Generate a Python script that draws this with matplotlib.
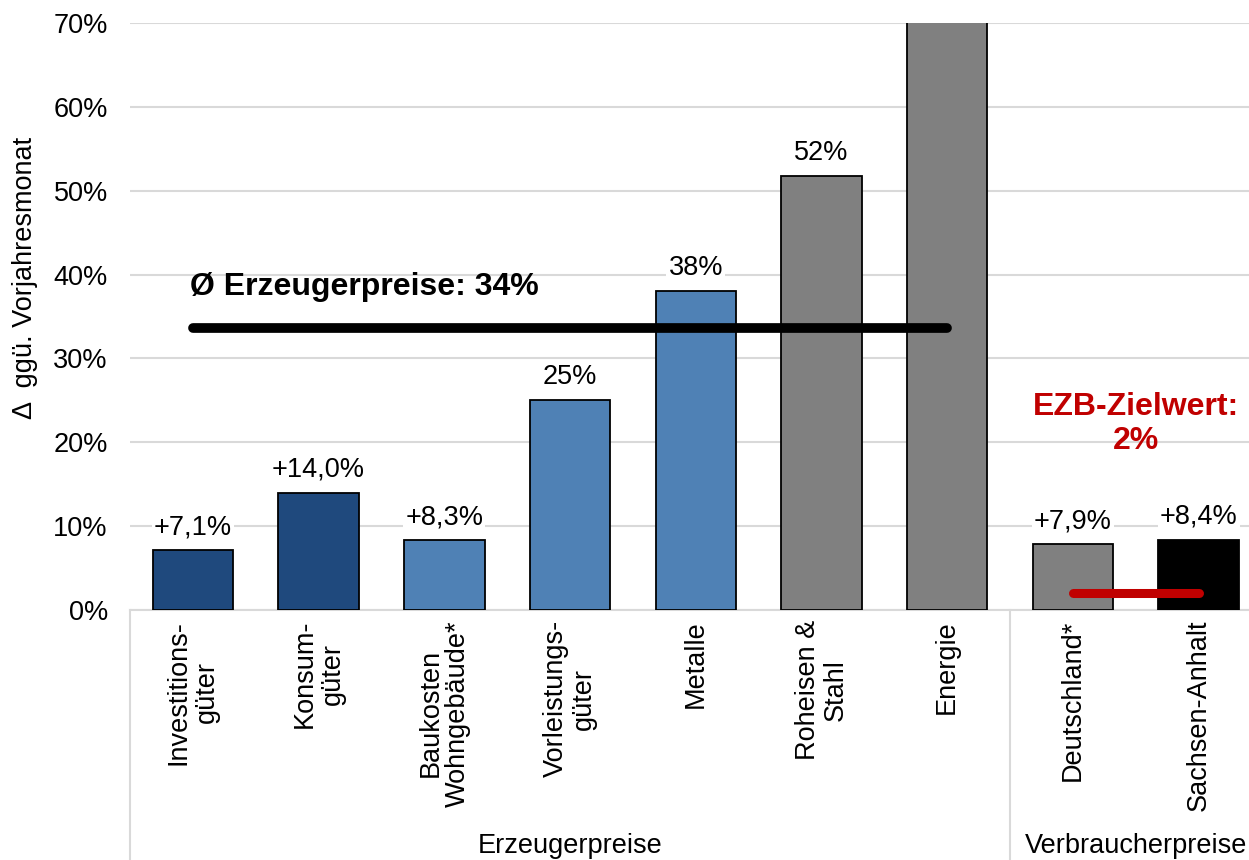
import matplotlib.pyplot as plt
import matplotlib.transforms as mtransforms

plt.rcParams['font.family'] = ['Liberation Sans', 'DejaVu Sans']

categories = ['Investitions-\ngüter', 'Konsum-\ngüter', 'Baukosten\nWohngebäude*', 'Vorleistungs-\ngüter',
              'Metalle', 'Roheisen &\nStahl', 'Energie', 'Deutschland*', 'Sachsen-Anhalt']
values = [7.1, 14.0, 8.3, 25.1, 38.1, 51.8, 92.0, 7.9, 8.4]
value_labels = ['+7,1%', '+14,0%', '+8,3%', '25%', '38%', '52%', '', '+7,9%', '+8,4%']
colors = ['#1F497D', '#1F497D', '#4F81B5', '#4F81B5', '#4F81B5', '#808080', '#808080', '#808080', '#000000']
y_ticks = [0, 10, 20, 30, 40, 50, 60, 70]

groups = ['Erzeugerpreise', 'Verbraucherpreise']
group_centers = [3, 7.5]
group_bounds = [-0.5, 6.5]

avg_producer = 33.6
avg_span = [0, 6]
ecb_target = 2.0
ecb_span = [7, 8]

fs = 19.5

fig = plt.figure(figsize=(12.49, 8.6), dpi=100)
ax = fig.add_axes([130 / 1249, 1 - 610 / 860, 1 - 130 / 1249, 587 / 860])

x = list(range(len(categories)))
ax.bar(x, values, width=0.64, color=colors, edgecolor='black', linewidth=1.3, zorder=3)

for i, lab in enumerate(value_labels):
    if lab:
        ax.annotate(lab, (i, values[i]), xytext=(0, 7), textcoords='offset points',
                    ha='center', va='bottom', fontsize=fs, zorder=4,
                    bbox=dict(facecolor='white', edgecolor='none', pad=1.5))

# Durchschnitt Erzeugerpreise
ax.plot(avg_span, [avg_producer, avg_producer], color='black', lw=7, solid_capstyle='round', zorder=5)
ax.text(-0.02, 38.5, 'Ø Erzeugerpreise: 34%', ha='left', va='center', fontsize=23, fontweight='bold', zorder=5)

# EZB-Zielwert
ax.plot(ecb_span, [ecb_target, ecb_target], color='#C00000', lw=6.5, solid_capstyle='round', zorder=5)
ax.text(7.5, 22.2, 'EZB-Zielwert:\n2%', ha='center', va='center', fontsize=23, fontweight='bold',
        color='#C00000', linespacing=1.2, zorder=5)

ax.set_xlim(-0.5, 8.4)
ax.set_ylim(0, 70)
ax.set_yticks(y_ticks)
ax.set_yticklabels([f'{t}%' for t in y_ticks], fontsize=fs)
ax.tick_params(axis='y', length=0, pad=16)
ax.set_xticks([])
ax.grid(axis='y', color='#D9D9D9', lw=1.5, zorder=0)
ax.set_axisbelow(True)
for s in ['top', 'right', 'left']:
    ax.spines[s].set_visible(False)
ax.spines['bottom'].set_color('#D9D9D9')
ax.spines['bottom'].set_linewidth(1.5)

xt = ax.get_xaxis_transform()
for i, cat in enumerate(categories):
    ax.text(i, -0.017, cat, transform=xt, rotation=90, ha='center', va='top',
            multialignment='center', fontsize=fs, linespacing=1.1)

for b in group_bounds:
    ax.plot([b, b], [0, -0.5], transform=xt, color='#D9D9D9', lw=1.5, clip_on=False)

gt = mtransforms.blended_transform_factory(ax.transData, fig.transFigure)
for g, c in zip(groups, group_centers):
    ax.text(c, 1 / 860, g, transform=gt, ha='center', va='bottom', fontsize=fs)

fig.text(25 / 1249, 1 - 278 / 860, 'Δ  ggü. Vorjahresmonat', rotation=90, ha='center', va='center', fontsize=fs)

fig.savefig('out.png', dpi=100)
